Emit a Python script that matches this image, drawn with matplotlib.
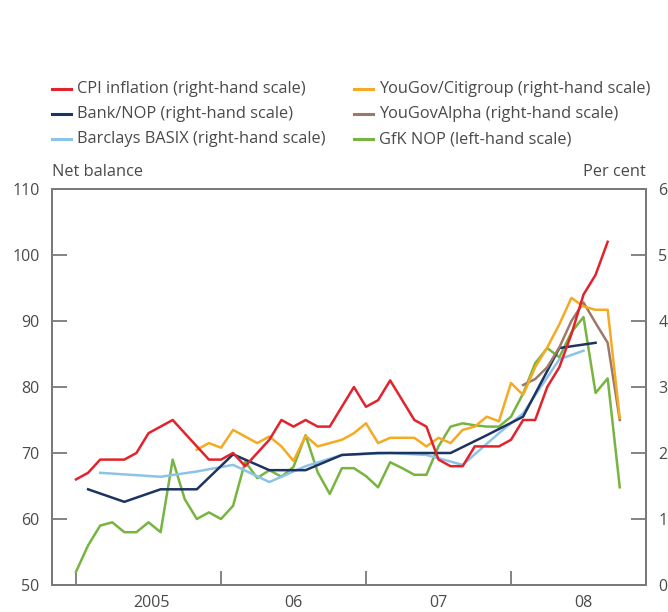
import matplotlib
matplotlib.use('Agg')
import matplotlib.pyplot as plt
from matplotlib.lines import Line2D

plt.rcParams['font.family'] = ['Open Sans', 'DejaVu Sans']

# ---------------- data ----------------
# month offsets are counted from January 2005 (0 = Jan 2005)
cpi_months = list(range(0, 45))
cpi_values = [1.6, 1.7, 1.9, 1.9, 1.9, 2.0, 2.3, 2.4, 2.5, 2.3, 2.1, 1.9,
              1.9, 2.0, 1.8, 2.0, 2.2, 2.5, 2.4, 2.5, 2.4, 2.4, 2.7, 3.0,
              2.7, 2.8, 3.1, 2.8, 2.5, 2.4, 1.9, 1.8, 1.8, 2.1, 2.1, 2.1,
              2.2, 2.5, 2.5, 3.0, 3.3, 3.8, 4.4, 4.7, 5.2]

bank_months = [1, 4, 7, 10, 13, 16, 19, 22, 25, 28, 31, 34, 37, 40, 43]
bank_values = [1.45, 1.26, 1.45, 1.45, 1.98, 1.74, 1.74, 1.97, 2.0, 2.0, 2.0,
               2.27, 2.55, 3.59, 3.67]

barclays_months = [2, 7, 10, 13, 16, 19, 22, 26, 29, 32, 35, 37, 40, 42]
barclays_values = [1.70, 1.64, 1.72, 1.82, 1.56, 1.80, 1.97, 2.0, 1.97, 1.82,
                   2.3, 2.6, 3.42, 3.55]

yougov_months = list(range(10, 46))
yougov_values = [2.05, 2.15, 2.08, 2.35, 2.25, 2.15, 2.25, 2.1, 1.88, 2.26,
                 2.1, 2.15, 2.2, 2.3, 2.45, 2.15, 2.23, 2.23, 2.23, 2.1,
                 2.23, 2.15, 2.35, 2.4, 2.55, 2.48, 3.06, 2.88, 3.3, 3.6,
                 3.95, 4.35, 4.22, 4.17, 4.17, 2.53]

alpha_months = list(range(37, 46))
alpha_values = [3.03, 3.12, 3.3, 3.6, 4.0, 4.28, 3.97, 3.67, 2.5]

gfk_months = list(range(0, 46))
gfk_values = [52, 56, 59, 59.5, 58, 58, 59.5, 58, 69, 63, 60, 61,
              60, 62, 68.7, 66.2, 67.4, 66.4, 67.9, 72.7, 67.1, 63.8, 67.7, 67.7,
              66.5, 64.8, 68.6, 67.7, 66.7, 66.7, 71, 74, 74.5, 74.2, 74, 74,
              75.5, 79, 83.6, 85.9, 84.5, 88.3, 90.6, 79.1, 81.3, 64.8]

legend_labels = ['CPI inflation (right-hand scale)',
                 'Bank/NOP (right-hand scale)',
                 'Barclays BASIX (right-hand scale)',
                 'YouGov/Citigroup (right-hand scale)',
                 'YouGovAlpha (right-hand scale)',
                 'GfK NOP (left-hand scale)']
year_labels = ['2005', '06', '07', '08']
left_ticks = [50, 60, 70, 80, 90, 100, 110]
right_ticks = [0, 1, 2, 3, 4, 5, 6]

# ---------------- style ----------------
C_RED = '#E2232B'
C_NAVY = '#1D3461'
C_LBLUE = '#8DC3E6'
C_ORANGE = '#F4AA22'
C_BROWN = '#9C7A6A'
C_GREEN = '#77B440'
TXT = '#4a4a4a'
SPINE = '#7a7a7a'
LW = 1.8
FS_TEXT = 11.8
FS_TICK = 11.5


def to_year(months):
    return [2005 + m / 12.0 for m in months]


W, H = 668, 612
fig = plt.figure(figsize=(W / 100, H / 100), dpi=100)
L, R, T, B = 52, 646, 189, 585
ax = fig.add_axes([L / W, 1 - B / H, (R - L) / W, (B - T) / H])
ax2 = ax.twinx()

ax.set_xlim(2005 - 24 / 145, 2005 + (R - 76) / 145)
ax.set_ylim(50, 110)
ax2.set_ylim(0, 6)

ax2.plot(to_year(barclays_months), barclays_values, color=C_LBLUE, lw=LW, zorder=2)
ax2.plot(to_year(bank_months), bank_values, color=C_NAVY, lw=LW, zorder=3)
ax.plot(to_year(gfk_months), gfk_values, color=C_GREEN, lw=LW, zorder=3)
ax2.plot(to_year(alpha_months), alpha_values, color=C_BROWN, lw=LW, zorder=4)
ax2.plot(to_year(yougov_months), yougov_values, color=C_ORANGE, lw=LW, zorder=5)
ax2.plot(to_year(cpi_months), cpi_values, color=C_RED, lw=LW, zorder=6)

for a in (ax, ax2):
    for s in a.spines.values():
        s.set_color(SPINE)
        s.set_linewidth(1.4)

ax.set_yticks(left_ticks)
ax.set_yticklabels([str(v) for v in left_ticks])
ax2.set_yticks(right_ticks)
ax2.set_yticklabels([str(v) for v in right_ticks])
for a in (ax, ax2):
    a.tick_params(axis='y', direction='in', length=11, width=1.3, color=SPINE,
                  pad=9, labelsize=FS_TICK, labelcolor=TXT)
    ticks = a.yaxis.get_major_ticks()
    for t in (ticks[0], ticks[-1]):
        t.tick1line.set_visible(False)
        t.tick2line.set_visible(False)

ax.set_xticks([2005, 2006, 2007, 2008])
ax.set_xticklabels([])
ax.set_xticks([2005.52, 2006.5, 2007.5, 2008.5], minor=True)
ax.set_xticklabels(year_labels, minor=True)
ax.tick_params(axis='x', which='major', direction='in', length=10, width=1.3, color=SPINE)
ax.tick_params(axis='x', which='minor', length=0, pad=7, labelsize=FS_TICK, labelcolor=TXT)
ax2.tick_params(axis='x', length=0)

fig.text(L / W, 1 - 172 / H, 'Net balance', ha='left', va='center', fontsize=FS_TEXT, color=TXT)
fig.text(R / W, 1 - 172 / H, 'Per cent', ha='right', va='center', fontsize=FS_TEXT, color=TXT)

# legend drawn by hand in two columns
colors = [C_RED, C_NAVY, C_LBLUE, C_ORANGE, C_BROWN, C_GREEN]
col_x = [52, 354]
row_y = [89, 114, 139]
for i, (lab, c) in enumerate(zip(legend_labels, colors)):
    cx = col_x[i // 3]
    cy = row_y[i % 3]
    fig.add_artist(Line2D([cx / W, (cx + 19) / W], [1 - cy / H, 1 - cy / H],
                          color=c, lw=2.2, transform=fig.transFigure))
    fig.text((cx + 25) / W, 1 - cy / H, lab, ha='left', va='center',
             fontsize=FS_TEXT, color=TXT)

fig.savefig('out.png', dpi=100)
